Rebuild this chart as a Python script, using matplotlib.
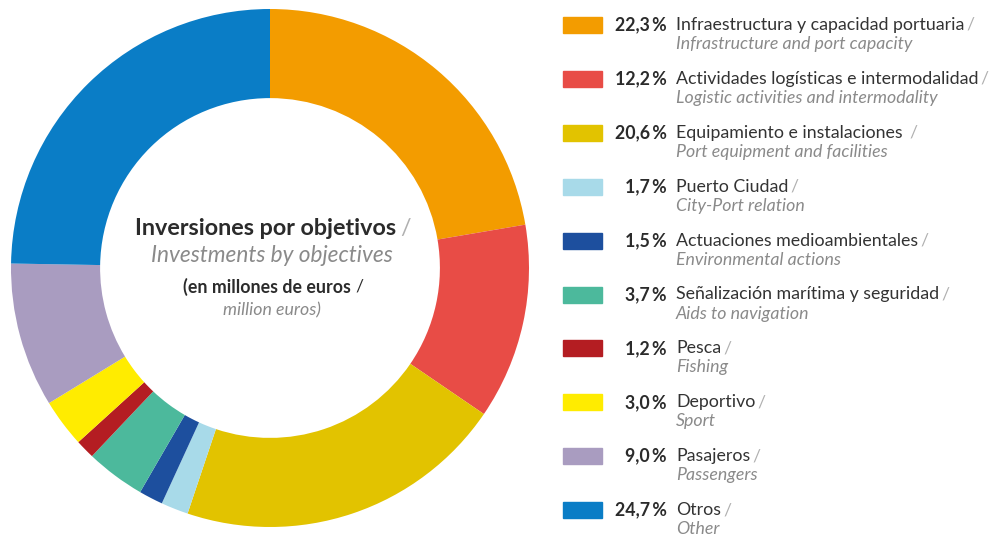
import matplotlib.pyplot as plt

plt.rcParams['font.family'] = ['Lato', 'DejaVu Sans']

shares = [22.3, 12.2, 20.6, 1.7, 1.5, 3.7, 1.2, 3.0, 9.0, 24.7]
share_labels = ['22,3 %', '12,2 %', '20,6 %', '1,7 %', '1,5 %', '3,7 %', '1,2 %', '3,0 %', '9,0 %', '24,7 %']
names_es = ['Infraestructura y capacidad portuaria', 'Actividades logísticas e intermodalidad',
            'Equipamiento e instalaciones ', 'Puerto Ciudad', 'Actuaciones medioambientales',
            'Señalización marítima y seguridad', 'Pesca', 'Deportivo', 'Pasajeros', 'Otros']
names_en = ['Infrastructure and port capacity', 'Logistic activities and intermodality',
            'Port equipment and facilities', 'City-Port relation', 'Environmental actions',
            'Aids to navigation', 'Fishing', 'Sport', 'Passengers', 'Other']
colors = ['#F39C00', '#E84C46', '#E2C300', '#A8DAE9', '#1D4F9E', '#4CB99C',
          '#B41D22', '#FFEC00', '#A99CC0', '#0A7DC6']

W, H = 1004, 542
fig = plt.figure(figsize=(W / 100, H / 100), dpi=100)

# donut
cx, cy, r = 270, 268, 259
ax = fig.add_axes([(cx - r) / W, (H - cy - r) / H, 2 * r / W, 2 * r / H])
ax.pie(shares, colors=colors, startangle=90, counterclock=False, radius=1,
       wedgeprops=dict(width=0.344, linewidth=0))
ax.set_xlim(-1, 1)
ax.set_ylim(-1, 1)
ax.set_aspect('equal')
ax.axis('off')

dark = '#2b2b2b'
grey = '#8a8a8a'
slash = '#b0b0b0'


def px(x, y):
    return x / W, 1 - y / H


renderer = fig.canvas.get_renderer()


def add_slash(t, y, size, color, gap=3):
    bb = t.get_window_extent(renderer)
    fig.text(bb.x1 / W + gap / W, 1 - y / H, '/', ha='left', va='center',
             fontsize=size, color=color)


# centre title
t1 = fig.text(*px(cx - 4, 228), 'Inversiones por objetivos', ha='center', va='center',
              fontsize=16.8, fontweight='bold', color=dark)
add_slash(t1, 228, 16.8, slash, 4)
fig.text(*px(cx + 2, 255), 'Investments by objectives', ha='center', va='center',
         fontsize=16.3, style='italic', color=grey)
t2 = fig.text(*px(cx - 3, 287), '(en millones de euros', ha='center', va='center',
              fontsize=12.8, fontweight='bold', color=dark)
add_slash(t2, 287, 12.8, dark, 4)
fig.text(*px(cx + 2, 310), 'million euros)', ha='center', va='center',
         fontsize=12.8, style='italic', color=grey)

# legend
for i in range(len(shares)):
    y = 25 + i * 53.9
    fig.patches.append(plt.Rectangle(px(563, y + 8), 39 / W, 16 / H,
                                     transform=fig.transFigure, color=colors[i]))
    fig.text(*px(667, y), share_labels[i].replace(' ', '\u2009'), ha='right', va='center',
             fontsize=12.8, fontweight='bold', color=dark)
    t = fig.text(*px(676, y), names_es[i], ha='left', va='center',
                 fontsize=12.8, color='#333333')
    add_slash(t, y, 12.8, slash, 2)
    fig.text(*px(676, y + 19), names_en[i], ha='left', va='center',
             fontsize=12.8, style='italic', color=grey)

fig.savefig('out.png', dpi=100)
